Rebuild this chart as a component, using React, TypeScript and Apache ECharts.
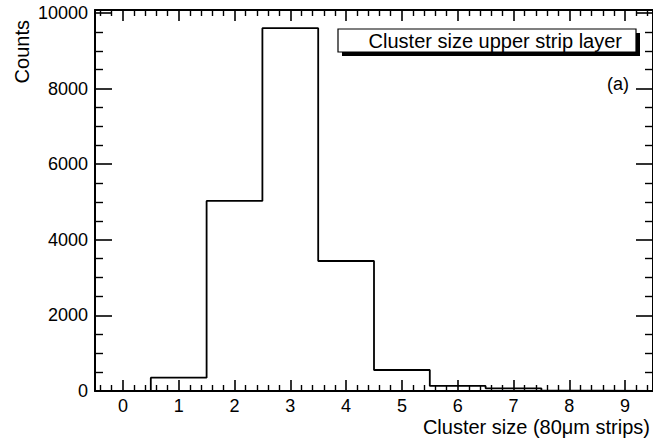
import React, { useEffect, useRef } from "react";
import * as echarts from "echarts";

// Histogram bins: centre of each cluster-size bin and its entry count
const binCenters = [0, 1, 2, 3, 4, 5, 6, 7, 8, 9];
const binCounts = [0, 352, 5030, 9600, 3440, 555, 135, 70, 8, 0];
const binWidth = 1;

const xRange = [-0.5, 9.5];
const yMax = 10080;
const yStep = 2000;

const legendText = "Cluster size upper strip layer";
const panelTag = "(a)";
const xTitle = "Cluster size (80\u03bcm strips)";
const yTitle = "Counts";

const FONT = "'Liberation Sans', Arial, Helvetica, sans-serif";

// Outline of the histogram as a step path from the bin edges
function histogramOutline(): number[][] {
  const pts: number[][] = [[binCenters[0] - binWidth / 2, 0]];
  binCenters.forEach((c, i) => {
    pts.push([c - binWidth / 2, binCounts[i]]);
    pts.push([c + binWidth / 2, binCounts[i]]);
  });
  pts.push([binCenters[binCenters.length - 1] + binWidth / 2, 0]);
  return pts;
}

export default function App() {
  const ref = useRef<HTMLDivElement>(null);

  useEffect(() => {
    if (!ref.current) return;
    const chart = echarts.init(ref.current, null, { renderer: "svg" });

    const black = "#000";
    const xAxisBase = {
      type: "value" as const,
      min: xRange[0],
      max: xRange[1],
      splitNumber: 10,
      axisLine: { show: true, onZero: false, lineStyle: { color: black, width: 2 } },
      axisTick: { show: true, inside: true, length: 11, lineStyle: { color: black, width: 1.6 } },
      minorTick: { show: true, splitNumber: 5, length: 6, lineStyle: { color: black, width: 1.4 } },
      splitLine: { show: false },
    };
    const yAxisBase = {
      type: "value" as const,
      min: 0,
      max: yMax,
      interval: yStep,
      axisLine: { show: true, onZero: false, lineStyle: { color: black, width: 2 } },
      axisTick: { show: true, inside: true, length: 17, lineStyle: { color: black, width: 1.6 } },
      minorTick: { show: true, splitNumber: 4, length: 8, lineStyle: { color: black, width: 1.4 } },
      splitLine: { show: false },
    };

    chart.setOption({
      animation: false,
      backgroundColor: "#fff",
      grid: { left: 95, top: 10, width: 561, height: 381, containLabel: false },
      xAxis: [
        {
          ...xAxisBase,
          position: "bottom",
          axisLabel: {
            show: true,
            showMinLabel: false,
            showMaxLabel: false,
            color: black,
            fontSize: 18,
            fontFamily: FONT,
            margin: 6,
            formatter: (v: number) => String(v),
          },
        },
        { ...xAxisBase, position: "top", axisLabel: { show: false } },
      ],
      yAxis: [
        {
          ...yAxisBase,
          position: "left",
          axisLabel: {
            show: true,
            showMaxLabel: false,
            color: black,
            fontSize: 18,
            fontFamily: FONT,
            margin: 7,
            formatter: (v: number) => String(v),
          },
        },
        { ...yAxisBase, position: "right", axisLabel: { show: false } },
      ],
      series: [
        {
          type: "line",
          xAxisIndex: 0,
          yAxisIndex: 0,
          data: histogramOutline(),
          showSymbol: false,
          symbol: "none",
          clip: false,
          lineStyle: { color: black, width: 1.8 },
          z: 3,
        },
      ],
      graphic: [
        // legend box with drop shadow
        { type: "rect", shape: { x: 342, y: 33, width: 298, height: 23 }, style: { fill: black }, z: 10 },
        {
          type: "rect",
          shape: { x: 338, y: 29, width: 298, height: 23 },
          style: { fill: "#fff", stroke: black, lineWidth: 1.2 },
          z: 11,
        },
        {
          type: "text",
          x: 622,
          y: 41,
          style: {
            text: legendText,
            fill: black,
            font: `20px ${FONT}`,
            align: "right",
            verticalAlign: "middle",
          },
          z: 12,
        },
        {
          type: "text",
          x: 629,
          y: 84,
          style: { text: panelTag, fill: black, font: `18px ${FONT}`, align: "right", verticalAlign: "middle" },
          z: 12,
        },
        {
          type: "text",
          x: 650,
          y: 427,
          style: { text: xTitle, fill: black, font: `20px ${FONT}`, align: "right", verticalAlign: "middle" },
          z: 12,
        },
        {
          type: "text",
          x: 22,
          y: 20,
          rotation: Math.PI / 2,
          style: { text: yTitle, fill: black, font: `20px ${FONT}`, align: "right", verticalAlign: "middle" },
          z: 12,
        },
      ],
    });

    return () => chart.dispose();
  }, []);

  return (
    <div
      ref={ref}
      style={{ position: "absolute", left: 0, top: 0, width: 653, height: 439 }}
    />
  );
}
